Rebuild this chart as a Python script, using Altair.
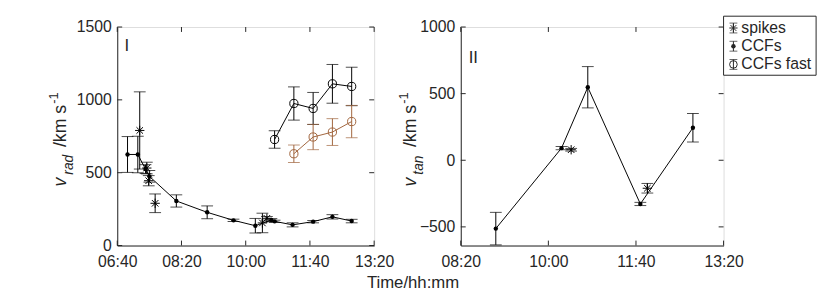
import altair as alt
import pandas as pd

# ---------------- data ----------------
ccf_time = ["06:56", "07:12", "07:24", "07:30", "08:12", "09:00", "09:41",
            "10:15", "10:40", "10:45", "11:13", "11:45", "12:15", "12:45"]
ccf_vrad = [625, 625, 525, 475, 306, 228, 173, 136, 175, 166, 142, 164, 197, 168]
ccf_err = [123, 125, 30, 40, 42, 44, 8, 50, 10, 8, 14, 8, 15, 12]

spike_time = ["07:15", "07:26", "07:29", "07:39", "10:26", "10:33"]
spike_vrad = [790, 532, 445, 290, 155, 187]
spike_err = [265, 40, 35, 64, 67, 12]

fast_time = ["10:45", "11:15", "11:45", "12:15", "12:45"]
fast_vrad = [728, 975, 941, 1110, 1092]
fast_err = [60, 114, 110, 133, 132]

fast2_time = ["11:15", "11:45", "12:15", "12:45"]
fast2_vrad = [630, 745, 779, 851]
fast2_err = [60, 87, 92, 111]

tan_time = ["09:00", "10:15", "10:45", "11:45", "12:45"]
tan_v = [-513, 91, 548, -328, 244]
tan_err = [122, 12, 155, 12, 107]

tan_spike_time = ["10:26", "11:53"]
tan_spike_v = [79, -210]
tan_spike_err = [10, 36]

x1_ticks = ["06:40", "08:20", "10:00", "11:40", "13:20"]
x2_ticks = ["08:20", "10:00", "11:40", "13:20"]
y1_ticks = [0, 500, 1000, 1500]
y2_ticks = [-500, 0, 500, 1000]
legend_labels = ["spikes", "CCFs", "CCFs fast"]

# ---------------- styling ----------------
INK = "#262626"
BROWN = "#A0643C"
FONT = "Liberation Sans"
ASTERISK = "M-1,0L1,0M0,-1L0,1M-0.7,-0.7L0.7,0.7M-0.7,0.7L0.7,-0.7"
CAP = 12

W1, W2, H = 261, 267, 222


def to_min(s):
    h, m = s.split(":")
    return int(h) * 60 + int(m)


def frame(times, vals, errs):
    return pd.DataFrame({
        "t": [to_min(s) for s in times],
        "v": vals,
        "lo": [v - e for v, e in zip(vals, errs)],
        "hi": [v + e for v, e in zip(vals, errs)],
    })


LABEL_EXPR = ("(floor(datum.value/60)<10?'0':'')+floor(datum.value/60)+':'+"
              "(datum.value%60<10?'0':'')+(datum.value%60)")


def make_panel(W, xdom, ydom, xt, yt, series, xtitle, ytitle_sub, title_x, roman, roman_xy,
               legend=False):
    xs = alt.Scale(domain=xdom, nice=False, zero=False)
    ys = alt.Scale(domain=ydom, nice=False, zero=False)
    xaxis_kw = dict(values=[to_min(s) for s in xt], labelExpr=LABEL_EXPR, ticks=False,
                    grid=False, labelFontSize=16, labelFont=FONT, labelColor=INK,
                    labelPadding=8, domainColor=INK, labelFlush=False)
    if xtitle:
        xaxis_kw.update(title=xtitle, titleFont=FONT, titleFontSize=17,
                        titleFontWeight="normal", titleColor=INK, titleX=300,
                        titleAlign="center", titlePadding=6)
    else:
        xaxis_kw.update(title=None)
    xaxis = alt.Axis(**xaxis_kw)
    yaxis = alt.Axis(values=yt, format="d", ticks=False, grid=False, labelFontSize=16,
                     labelFont=FONT, labelColor=INK, labelPadding=6, domainColor=INK,
                     title=None)

    def X(f="t"):
        return alt.X(f"{f}:Q", scale=xs, axis=xaxis)

    def Y(f):
        return alt.Y(f"{f}:Q", scale=ys, axis=yaxis)

    layers = []
    for df, kind, color in series:
        base = alt.Chart(df)
        layers.append(base.mark_rule(color=color, strokeWidth=1).encode(
            x=X(), y=Y("lo"), y2="hi"))
        for f in ("lo", "hi"):
            layers.append(base.mark_tick(orient="horizontal", size=CAP, thickness=1,
                                         color=color).encode(x=X(), y=Y(f)))
        if kind == "ccf":
            layers.append(base.mark_line(color=color, strokeWidth=1).encode(x=X(), y=Y("v")))
            layers.append(base.mark_point(shape="circle", filled=True, size=20, color=color,
                                          opacity=1).encode(x=X(), y=Y("v")))
        elif kind == "fast":
            layers.append(base.mark_line(color=color, strokeWidth=1).encode(x=X(), y=Y("v")))
            layers.append(base.mark_point(shape="circle", filled=False, size=70, color=color,
                                          strokeWidth=1, opacity=1).encode(x=X(), y=Y("v")))
        else:
            layers.append(base.mark_point(shape=ASTERISK, filled=False, size=90, color=color,
                                          strokeWidth=1, opacity=1).encode(x=X(), y=Y("v")))

    # inward ticks on all four sides
    xtdf = pd.DataFrame({"t": [to_min(s) for s in xt]})
    ytdf = pd.DataFrame({"v": yt})
    layers.append(alt.Chart(xtdf).mark_rule(color=INK).encode(
        x=X(), y=alt.value(H), y2=alt.value(H - 5)))
    layers.append(alt.Chart(xtdf).mark_rule(color=INK).encode(
        x=X(), y=alt.value(0), y2=alt.value(5)))
    layers.append(alt.Chart(ytdf).mark_rule(color=INK).encode(
        y=Y("v"), x=alt.value(0), x2=alt.value(5)))
    layers.append(alt.Chart(ytdf).mark_rule(color=INK).encode(
        y=Y("v"), x=alt.value(W - 5), x2=alt.value(W)))

    # y title:  v_sub /km s^-1 (rotated)
    tx = title_x
    pieces = [("v", 18, "italic", tx, 162), (ytitle_sub, 14, "italic", tx + 7, 150),
              ("/km s", 18, "normal", tx, 122), ("-1", 13, "normal", tx - 9, 78)]
    for txt, fs, st, px, py in pieces:
        layers.append(alt.Chart(pd.DataFrame({"s": [txt]})).mark_text(
            angle=270, align="left", baseline="alphabetic", fontSize=fs, fontStyle=st,
            font=FONT, color=INK).encode(text="s:N", x=alt.value(px), y=alt.value(py)))

    layers.append(alt.Chart(pd.DataFrame({"s": [roman]})).mark_text(
        align="center", baseline="middle", fontSize=17, font=FONT, color=INK).encode(
        text="s:N", x=alt.value(roman_xy[0]), y=alt.value(roman_xy[1])))

    if legend:
        lx0, lx1, ly0, ly1 = W + 0, W + 94, -11, 49
        layers.append(alt.Chart(pd.DataFrame({"a": [0]})).mark_rect(
            fill="white", stroke=INK, strokeWidth=1).encode(
            x=alt.value(lx0), x2=alt.value(lx1), y=alt.value(ly0), y2=alt.value(ly1)))
        ldf = pd.DataFrame({"label": legend_labels,
                            "ypix": [1, 19.5, 38],
                            "xpix": [W + 10] * 3,
                            "kind": ["spike", "ccf", "fast"]})
        ldf["top"] = ldf["ypix"] - 5
        ldf["bot"] = ldf["ypix"] + 5
        ldf["tx"] = ldf["xpix"] + 8
        lb = alt.Chart(ldf)
        px = alt.X("xpix:Q", scale=None, axis=None)
        layers.append(lb.mark_rule(color=INK).encode(x=px, y=alt.Y("top:Q", scale=None, axis=None),
                                                     y2="bot:Q"))
        for f in ("top", "bot"):
            layers.append(lb.mark_tick(orient="horizontal", size=8, thickness=1, color=INK).encode(
                x=px, y=alt.Y(f"{f}:Q", scale=None, axis=None)))
        py = alt.Y("ypix:Q", scale=None, axis=None)
        layers.append(lb.transform_filter("datum.kind=='spike'").mark_point(
            shape=ASTERISK, filled=False, size=70, color=INK, strokeWidth=1, opacity=1).encode(
            x=px, y=py))
        layers.append(lb.transform_filter("datum.kind=='ccf'").mark_point(
            shape="circle", filled=True, size=20, color=INK, opacity=1).encode(x=px, y=py))
        layers.append(lb.transform_filter("datum.kind=='fast'").mark_point(
            shape="circle", filled=False, size=60, color=INK, strokeWidth=1, opacity=1).encode(
            x=px, y=py))
        layers.append(lb.mark_text(align="left", baseline="middle", fontSize=16, font=FONT,
                                   color=INK).encode(
            x=alt.X("tx:Q", scale=None, axis=None), y=py, text="label:N"))

    return alt.layer(*layers).properties(width=W, height=H)


left = make_panel(
    W1, [to_min("06:40"), to_min("13:20")], [0, 1500], x1_ticks, y1_ticks,
    [(frame(ccf_time, ccf_vrad, ccf_err), "ccf", "black"),
     (frame(fast_time, fast_vrad, fast_err), "fast", "black"),
     (frame(fast2_time, fast2_vrad, fast2_err), "fast", BROWN),
     (frame(spike_time, spike_vrad, spike_err), "spike", "black")],
    "Time/hh:mm", "rad", -51.6, "I", (9.7, 19))

right = make_panel(
    W2, [to_min("08:20"), to_min("13:20")], [-640, 1000], x2_ticks, y2_ticks,
    [(frame(tan_time, tan_v, tan_err), "ccf", "black"),
     (frame(tan_spike_time, tan_spike_v, tan_spike_err), "spike", "black")],
    None, "tan", -45, "II", (12.8, 32), legend=True)

chart = alt.hconcat(left, right, spacing=88, bounds="flush").properties(
    padding={"left": 39, "top": 5, "right": 5, "bottom": 5}
).configure_view(stroke=INK, strokeWidth=1).configure(background="white")

chart.save("out.html", embed_options={"renderer": "svg", "actions": False})
